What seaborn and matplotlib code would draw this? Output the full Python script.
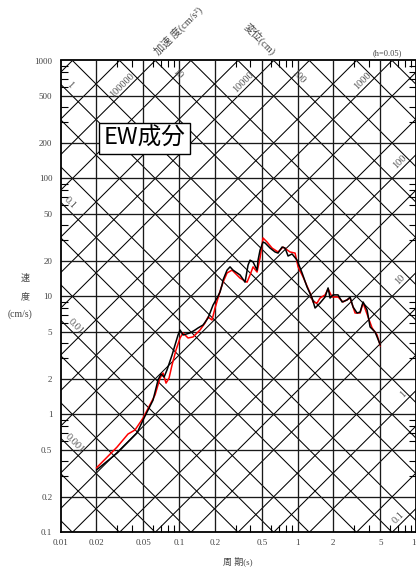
import numpy as np
import pandas as pd
import matplotlib
matplotlib.use("Agg")
import matplotlib.pyplot as plt
import seaborn as sns
from matplotlib.ticker import FixedLocator, FixedFormatter, LogLocator, NullFormatter

# Pseudo-velocity response spectra (h=0.05), EW component
period_black = [0.020, 0.030, 0.0441, 0.0496, 0.0602, 0.0663, 0.0703, 0.0746, 0.0790, 0.0871,
                0.0923, 0.0979, 0.1018, 0.1079, 0.1236, 0.1362, 0.1444, 0.1592, 0.1754, 0.1934,
                0.2090, 0.2215, 0.2303, 0.2349, 0.2539, 0.2691, 0.2852, 0.3268, 0.3603, 0.3818,
                0.3970, 0.4209, 0.4549, 0.4639, 0.4823, 0.5110, 0.5315, 0.5857, 0.6456, 0.6844,
                0.7398, 0.7844, 0.8315, 0.8984, 0.9903, 1.092, 1.203, 1.326, 1.405, 1.549,
                1.707, 1.810, 1.881, 1.994, 2.198, 2.376, 2.619, 2.776, 2.943, 3.181,
                3.373, 3.574, 3.864, 4.096, 4.514, 5.0]
vel_black = [0.337, 0.470, 0.695, 0.895, 1.32, 1.95, 2.20, 2.07, 2.38, 3.18,
             3.87, 4.71, 5.19, 4.71, 4.90, 5.19, 5.40, 5.72, 6.56, 8.45,
             9.69, 10.9, 12.5, 13.8, 16.7, 17.8, 16.7, 15.2, 13.2, 18.4,
             20.3, 19.6, 16.7, 20.3, 24.7, 28.9, 28.4, 25.7, 23.8, 23.3,
             26.2, 25.7, 22.0, 22.9, 20.3, 15.8, 12.0, 9.69, 7.97, 8.79,
             9.88, 11.8, 9.69, 10.3, 10.3, 8.97, 9.32, 9.88, 8.13, 7.23,
             7.37, 8.97, 7.67, 5.51, 4.99, 3.87]

period_red = [0.020, 0.0299, 0.0370, 0.0424, 0.0496, 0.0626, 0.0690, 0.0731, 0.0775,
              0.0822, 0.0871, 0.0941, 0.1018, 0.1079, 0.1189, 0.1310, 0.1501, 0.1655, 0.1754,
              0.1896, 0.2010, 0.2131, 0.2259, 0.2394, 0.2539, 0.2799, 0.3268, 0.3745, 0.3970,
              0.4209, 0.4549, 0.4823, 0.5110, 0.5526, 0.6088, 0.6844, 0.7543, 0.8641, 0.9526,
              1.010, 1.113, 1.275, 1.351, 1.461, 1.549, 1.707, 1.810, 1.956, 2.198,
              2.423, 2.776, 3.059, 3.373, 3.574, 3.940, 4.258, 4.693, 5.0]
vel_red = [0.351, 0.528, 0.681, 0.737, 0.931, 1.46, 2.03, 2.24, 1.84,
           2.03, 2.62, 3.51, 4.44, 4.90, 4.44, 4.53, 5.19, 5.95, 6.69,
           6.31, 7.97, 9.69, 11.8, 13.8, 15.8, 16.7, 14.3, 13.2, 15.2,
           17.8, 16.1, 21.2, 31.3, 28.9, 25.7, 23.8, 26.2, 23.8, 23.3,
           17.8, 14.6, 10.7, 8.97, 8.79, 9.69, 10.3, 11.6, 9.88, 9.88,
           8.97, 9.69, 7.23, 7.23, 8.79, 6.69, 5.40, 4.71, 3.80]

x_ticks = [0.01, 0.02, 0.05, 0.1, 0.2, 0.5, 1, 2, 5, 10]
x_tick_labels = ["0.01", "0.02", "0.05", "0.1", "0.2", "0.5", "1", "2", "5", "10"]
y_ticks = [0.1, 0.2, 0.5, 1, 2, 5, 10, 20, 50, 100, 200, 500, 1000]
y_tick_labels = ["0.1", "0.2", "0.5", "1", "2", "5", "10", "20", "50", "100", "200", "500", "1000"]

# constant displacement (cm) and acceleration (cm/s^2) guide lines
disp_values = [m * 10.0 ** k for k in range(-5, 5) for m in (1, 2, 5)]
accel_values = [m * 10.0 ** k for k in range(-3, 8) for m in (1, 2, 5)]

disp_labels = ["1", "0.1", "0.01", "0.001", "10", "100"]
disp_label_values = [1, 0.1, 0.01, 0.001, 10, 100]
disp_label_periods = [0.0110, 0.0110, 0.0124, 0.0120, 0.0888, 0.935]
accel_labels = ["100000", "10000", "1000", "100", "10", "1", "0.1"]
accel_label_values = [1e5, 1e4, 1e3, 100, 10, 1, 0.1]
accel_label_periods = [0.0358, 0.378, 3.84, 7.92, 7.97, 8.5, 7.7]

sns.set_style("white")
SERIF = ["Liberation Serif", "Noto Sans CJK JP"]
plt.rcParams["font.family"] = SERIF

fig = plt.figure(figsize=(4.16, 5.70), dpi=100)
ax = fig.add_axes([60.7 / 416, 37.7 / 570, 355.3 / 416, 471.8 / 570])
ax.set_xscale("log")
ax.set_yscale("log")
ax.set_xlim(0.01, 10)
ax.set_ylim(0.1, 1000)

two_pi = 2 * np.pi
T_line = np.logspace(-2.2, 1.2, 60)
for d in disp_values:
    ax.plot(T_line, two_pi * d / T_line, color="black", lw=0.75, zorder=1)
for a in accel_values:
    ax.plot(T_line, a * T_line / two_pi, color="black", lw=0.75, zorder=1)

for t in x_ticks[1:-1]:
    ax.axvline(t, color="#1a1a1a", lw=0.95, zorder=1.5)
for v in y_ticks[1:-1]:
    ax.axhline(v, color="#1a1a1a", lw=0.95, zorder=1.5)

df_red = pd.DataFrame({"period": period_red, "velocity": vel_red})
df_black = pd.DataFrame({"period": period_black, "velocity": vel_black})
sns.lineplot(data=df_red, x="period", y="velocity", color="#ff0000", lw=1.1,
             sort=False, estimator=None, ax=ax, zorder=3)
sns.lineplot(data=df_black, x="period", y="velocity", color="black", lw=1.1,
             sort=False, estimator=None, ax=ax, zorder=3.1)

off = 4.5 / np.sqrt(2)
for lab, d, t in zip(disp_labels, disp_label_values, disp_label_periods):
    ax.annotate(lab, xy=(t, two_pi * d / t), xytext=(off, off), textcoords="offset points",
                ha="center", va="center", rotation=-45, rotation_mode="anchor",
                fontsize=7.5, color="#555555", zorder=2, annotation_clip=False)
for lab, a, t in zip(accel_labels, accel_label_values, accel_label_periods):
    ax.annotate(lab, xy=(t, a * t / two_pi), xytext=(-off, off), textcoords="offset points",
                ha="center", va="center", rotation=45, rotation_mode="anchor",
                fontsize=7.5, color="#555555", zorder=2, annotation_clip=False)

ax.text(0.2359, 0.8347, "EW成分", transform=ax.transAxes, ha="center", va="center",
        fontsize=17, family=["Noto Sans CJK JP"], color="black", zorder=5,
        bbox=dict(boxstyle="square,pad=0.18", fc="white", ec="black", lw=1.0))

ax.xaxis.set_major_locator(FixedLocator(x_ticks))
ax.xaxis.set_major_formatter(FixedFormatter(x_tick_labels))
ax.yaxis.set_major_locator(FixedLocator(y_ticks))
ax.yaxis.set_major_formatter(FixedFormatter(y_tick_labels))
ax.xaxis.set_minor_locator(LogLocator(base=10, subs=(3, 4, 6, 7, 8, 9), numticks=20))
ax.yaxis.set_minor_locator(LogLocator(base=10, subs=(3, 4, 6, 7, 8, 9), numticks=20))
ax.xaxis.set_minor_formatter(NullFormatter())
ax.yaxis.set_minor_formatter(NullFormatter())
ax.tick_params(which="major", length=0, labelsize=6.5, labelcolor="#444444")
ax.tick_params(axis="x", which="major", pad=5)
ax.tick_params(axis="y", which="major", pad=6)
ax.tick_params(which="minor", direction="in", length=5, width=0.8, color="black",
               top=True, right=True, bottom=True, left=True)
ax.set_xlabel("")
ax.set_ylabel("")
for s in ax.spines.values():
    s.set_color("black")
    s.set_linewidth(1.3)
    s.set_zorder(4)

def fig_xy(px, py):
    return px / 416, 1 - py / 570

fig.text(*fig_xy(237.5, 561), "周 期(s)", ha="center", va="center", fontsize=6.5, color="#444444")
fig.text(*fig_xy(25, 278), "速", ha="center", va="center", fontsize=6.5, color="#444444")
fig.text(*fig_xy(25, 297), "度", ha="center", va="center", fontsize=6.5, color="#444444")
fig.text(*fig_xy(20, 314), "(cm/s)", ha="center", va="center", fontsize=7, color="#444444")
fig.text(*fig_xy(402, 53), "(h=0.05)", ha="right", va="center", fontsize=6, color="#444444")
fig.text(*fig_xy(178, 31), "加速 度(cm/s²)", ha="center", va="center", rotation=45,
         rotation_mode="anchor", fontsize=7.5, color="#444444")
fig.text(*fig_xy(260, 39), "変位(cm)", ha="center", va="center", rotation=-45,
         rotation_mode="anchor", fontsize=7.5, color="#444444")

fig.savefig("out.png", dpi=100)
